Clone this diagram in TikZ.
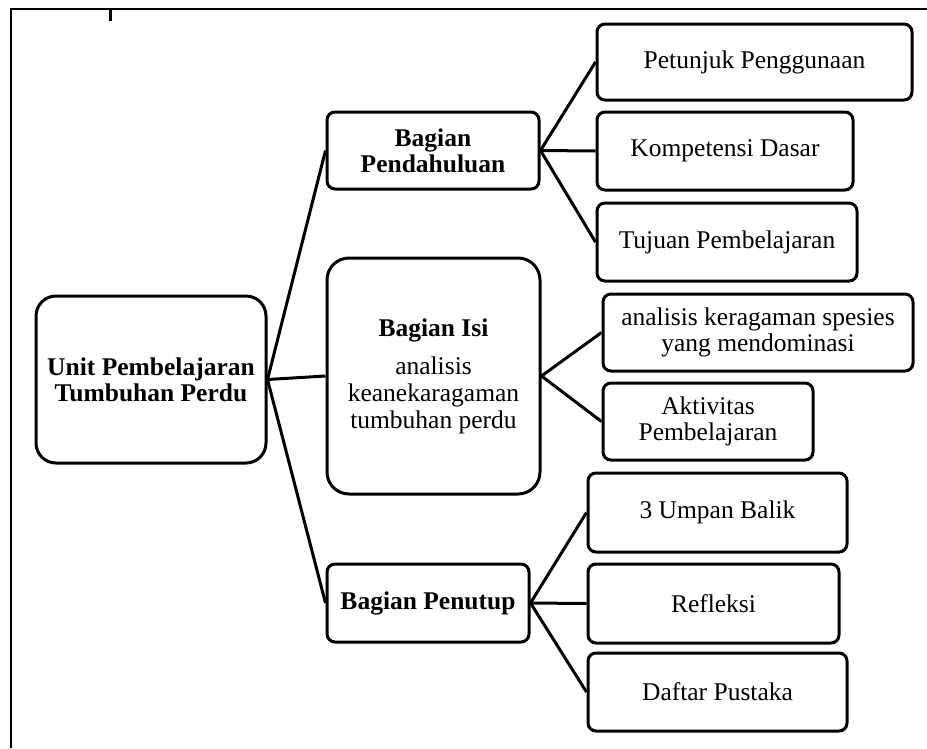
\documentclass[tikz,border=0pt]{standalone}
\usepackage{fontspec}
\setmainfont{Liberation Serif}
\begin{document}
\begin{tikzpicture}[x=1pt,y=-1pt,
  box/.style={draw, line width=3pt, rounded corners=8pt, align=center, inner sep=0pt,
    font=\fontsize{25.5}{26.5}\selectfont},
  conn/.style={line width=3pt},
  frameline/.style={line width=2pt}]
\useasboundingbox (0,0) rectangle (927,748);
% frame
\draw[frameline] (11,748) -- (11,9) -- (927,9);
\draw[line width=3pt] (110,9) -- (110,21);
% nodes
\node[box, rounded corners=20pt, minimum width=230pt, minimum height=167pt, font=\fontsize{25.5}{26}\selectfont\bfseries] (root) at (151,379.5) {Unit Pembelajaran\\Tumbuhan Perdu};
\node[box, minimum width=212pt, minimum height=77pt, font=\fontsize{25.5}{26}\selectfont\bfseries] (pend) at (433,150.5) {Bagian\\Pendahuluan};
\node[box, rounded corners=22pt, minimum width=213pt, minimum height=236pt, font=\fontsize{25.5}{27}\selectfont] (isi) at (433.5,376) {\textbf{Bagian Isi}\\[11pt]analisis\\keanekaragaman\\tumbuhan perdu};
\node[box, minimum width=202pt, minimum height=78pt, font=\fontsize{25.5}{26}\selectfont\bfseries] (pen) at (428,603) {Bagian Penutup};
\node[box, minimum width=315pt, minimum height=76pt] (petunjuk) at (754.5,62) {Petunjuk Penggunaan};
\node[box, minimum width=256pt, minimum height=78pt] (komp) at (725,151) {Kompetensi Dasar};
\node[box, minimum width=260pt, minimum height=78pt] (tujuan) at (727,242) {Tujuan Pembelajaran};
\node[box, minimum width=310pt, minimum height=77pt] (anal) at (758,332.5) {analisis keragaman spesies\\yang mendominasi};
\node[box, minimum width=210pt, minimum height=77pt] (akt) at (708,421.5) {Aktivitas\\Pembelajaran};
\node[box, minimum width=259pt, minimum height=79pt] (umpan) at (717.5,512.5) {3 Umpan Balik};
\node[box, minimum width=251pt, minimum height=79pt] (refl) at (713.5,603.5) {Refleksi};
\node[box, minimum width=259pt, minimum height=78pt] (daftar) at (717.5,692) {Daftar Pustaka};
% connectors
\draw[conn] (root.east) -- (pend.west);
\draw[conn] (root.east) -- (isi.west);
\draw[conn] (root.east) -- (pen.west);
\draw[conn] (pend.east) -- (petunjuk.west);
\draw[conn] (pend.east) -- (komp.west);
\draw[conn] (pend.east) -- (tujuan.west);
\draw[conn] (isi.east) -- (anal.west);
\draw[conn] (isi.east) -- (akt.west);
\draw[conn] (pen.east) -- (umpan.west);
\draw[conn] (pen.east) -- (refl.west);
\draw[conn] (pen.east) -- (daftar.west);
\end{tikzpicture}
\end{document}
